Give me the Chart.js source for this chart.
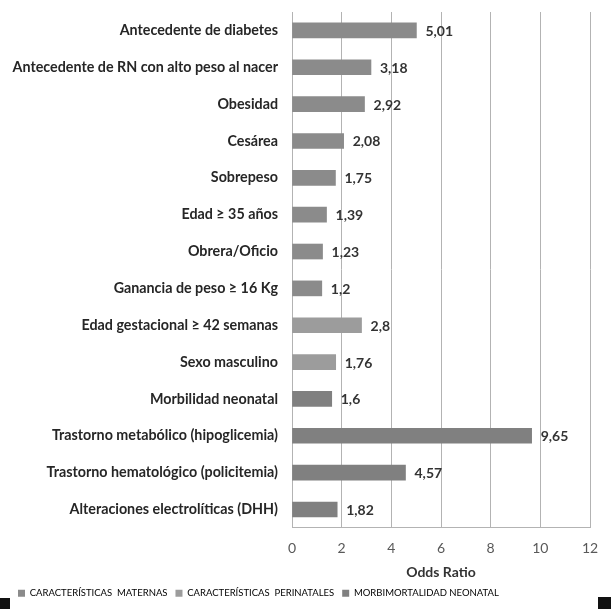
<!DOCTYPE html>
<html>
<head>
<meta charset="utf-8">
<script src="https://cdn.jsdelivr.net/npm/chart.js@4.4.1/dist/chart.umd.min.js"></script>
<style>
  html, body { margin: 0; padding: 0; background: #fff; }
  #wrap { position: relative; width: 611px; height: 609px; }
  .corner { position: absolute; background: #111; }
</style>
</head>
<body>
<div id="wrap">
  <canvas id="c" width="611" height="609"></canvas>
  <div class="corner" style="left:0;top:598px;width:10px;height:11px"></div>
  <div class="corner" style="left:598px;top:597px;width:13px;height:12px"></div>
</div>
<script>
// Factores asociados a macrosomía fetal (Odds Ratio)
const categories = [
  'Antecedente de diabetes',
  'Antecedente de RN con alto peso al nacer',
  'Obesidad',
  'Cesárea',
  'Sobrepeso',
  'Edad ≥ 35 años',
  'Obrera/Oficio',
  'Ganancia de peso ≥ 16 Kg',
  'Edad gestacional ≥ 42 semanas',
  'Sexo masculino',
  'Morbilidad neonatal',
  'Trastorno metabólico (hipoglicemia)',
  'Trastorno hematológico (policitemia)',
  'Alteraciones electrolíticas (DHH)'
];
const oddsRatio = [5.01, 3.18, 2.92, 2.08, 1.75, 1.39, 1.23, 1.2, 2.8, 1.76, 1.6, 9.65, 4.57, 1.82];
const valueLabels = ['5,01', '3,18', '2,92', '2,08', '1,75', '1,39', '1,23', '1,2', '2,8', '1,76', '1,6', '9,65', '4,57', '1,82'];
// grupo de cada factor: 0 maternas, 1 perinatales, 2 neonatal
const groupOf = [0, 0, 0, 0, 0, 0, 0, 0, 1, 1, 2, 2, 2, 2];
const groupNames = ['CARACTERÍSTICAS  MATERNAS', 'CARACTERÍSTICAS  PERINATALES', 'MORBIMORTALIDAD NEONATAL'];
const groupColors = ['#8b8b8b', '#9c9c9c', '#808080'];
const xTicks = [0, 2, 4, 6, 8, 10, 12];

const FONT = 'Lato, "Open Sans", sans-serif';

const valueLabelPlugin = {
  id: 'valueLabels',
  afterDatasetsDraw(chart) {
    const ctx = chart.ctx;
    const meta = chart.getDatasetMeta(0);
    ctx.save();
    ctx.font = 'bold 14px ' + FONT;
    ctx.fillStyle = '#333333';
    ctx.textAlign = 'left';
    ctx.textBaseline = 'middle';
    meta.data.forEach((bar, i) => {
      ctx.fillText(valueLabels[i], bar.x + 9, bar.y + 1);
    });
    ctx.restore();
  }
};

new Chart(document.getElementById('c'), {
  type: 'bar',
  data: {
    labels: categories,
    datasets: [{
      label: 'Odds Ratio',
      data: oddsRatio,
      backgroundColor: groupOf.map(g => groupColors[g]),
      barThickness: 15,
      borderWidth: 0
    }]
  },
  options: {
    indexAxis: 'y',
    responsive: false,
    animation: false,
    devicePixelRatio: 1,
    layout: { padding: { top: 12, right: 21, left: 10, bottom: 1 } },
    plugins: {
      tooltip: { enabled: false },
      legend: {
        position: 'bottom',
        align: 'start',
        labels: {
          boxWidth: 7,
          boxHeight: 7,
          padding: 8,
          color: '#404040',
          font: { family: FONT, size: 9.5 },
          generateLabels: () => groupNames.map((name, g) => ({
            text: name,
            fillStyle: groupColors[g],
            strokeStyle: groupColors[g],
            lineWidth: 0,
            hidden: false,
            datasetIndex: 0
          }))
        },
        onClick: () => {}
      }
    },
    scales: {
      x: {
        min: 0,
        max: 12,
        afterBuildTicks: s => { s.ticks = xTicks.map(v => ({ value: v })); },
        grid: { color: '#b3b3b3', lineWidth: 1, drawTicks: false },
        border: { display: true, color: '#b3b3b3' },
        ticks: { color: '#595959', font: { family: FONT, size: 14 }, padding: 12 },
        title: { display: true, text: 'Odds Ratio', color: '#333333', font: { family: FONT, size: 14, weight: 'bold' }, padding: { top: -5, bottom: 0 } }
      },
      y: {
        afterFit: s => { s.width = 282; s.paddingTop = 0; s.paddingBottom = 0; },
        grid: { display: false, drawTicks: false },
        border: { display: true, color: '#b3b3b3' },
        ticks: { color: '#262626', font: { family: FONT, size: 14.3, weight: 'bold' }, padding: 14, autoSkip: false }
      }
    }
  },
  plugins: [valueLabelPlugin]
});
</script>
</body>
</html>
